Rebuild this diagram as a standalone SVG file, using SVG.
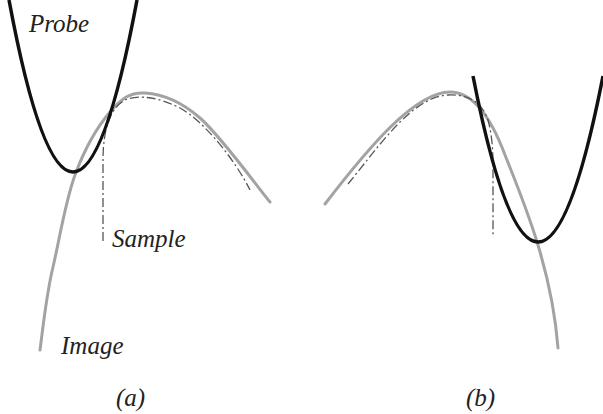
<svg xmlns="http://www.w3.org/2000/svg" width="603" height="414" viewBox="0 0 603 414">
<style>
.image{fill:none;stroke:#a3a3a3;stroke-width:3;stroke-linecap:round}
.probe{fill:none;stroke:#111;stroke-width:3.5}
.sample{fill:none;stroke:#555;stroke-width:1.3;stroke-dasharray:9 3 2 3}
text{font-family:"Liberation Serif",serif;font-style:italic;font-size:25px;fill:#222}
</style>
<rect width="603" height="414" fill="#fff"/>
<g id="panel-a">
<g id="image-a"><path class="image" d="M40,350 C42,336 46,296 53,267 C59.8,237.8 65.5,200.8 75,175 C84.5,149.2 98.3,125.7 110,112 C121.7,98.3 130,92 145,93 C160,94 179.2,99.8 200,118 C220.8,136.2 258.3,188 270,202"/></g>
<g id="sample-a"><path class="sample" d="M103,241 L103,160 C103,130 110,108 125,100 C140,94 160,98 180,108 C205,122 235,160 250,190"/></g>
<g id="probe-a"><path class="probe" d="M9,0 Q73,344 137,0"/></g>
<text x="29" y="32">Probe</text>
<text x="112" y="247">Sample</text>
<text x="61" y="354">Image</text>
<text x="116" y="406">(a)</text>
</g>
<g id="panel-b">
<g id="image-b"><path class="image" d="M325,204 C368,148 415,92 450,92 C472,92 490,115 505,155 C525,205 552,270 558,348"/></g>
<g id="sample-b"><path class="sample" d="M348,184 C380,145 412,97 448,95 C468,94 482,102 488,120 C492,135 493,150 493,165 L493,237"/></g>
<g id="probe-b"><path class="probe" d="M473,76 Q538,408 603,76"/></g>
<text x="466" y="406">(b)</text>
</g>
</svg>
